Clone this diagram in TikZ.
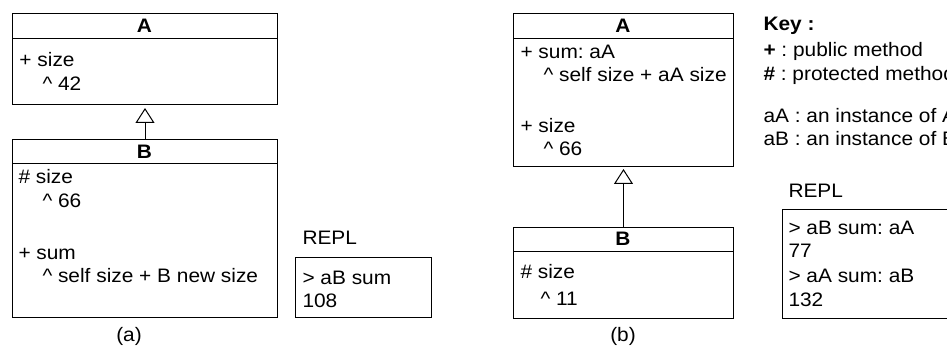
\documentclass[tikz,border=0pt]{standalone}
\usepackage{fontspec}
\setmainfont{Liberation Sans}[FakeStretch=1.07]
\usetikzlibrary{arrows.meta}
\frenchspacing
\begin{document}
\begin{tikzpicture}[x=1pt,y=-1pt,line width=1pt,
  txt/.style={anchor=base west, inner sep=0pt, font=\fontsize{19.5}{23}\selectfont},
  ttl/.style={anchor=base, inner sep=0pt, font=\fontsize{19.5}{23}\selectfont\bfseries},
  box/.style={draw, anchor=north west, inner sep=0pt, line width=1pt},
  inh/.style={-{Triangle[open,length=15pt,width=19pt,line width=1pt]}}]
\useasboundingbox (0,0) rectangle (947,347);
\clip (0,0) rectangle (947,347);
% ---------- panel (a)
\node[box, minimum width=265pt, minimum height=91.5pt] (Aa) at (12,13) {};
\draw ([yshift=-25.5pt]Aa.north west) -- ([yshift=-25.5pt]Aa.north east);
\node[ttl] (AaT) at (144.5,32.5) {A};
\node[txt] (Aa1) at (19,67) {+ size};
\node[txt] (Aa2) at (42,91) {\^{} 42};
\node[box, minimum width=265pt, minimum height=177.5pt] (Ba) at (12,139.5) {};
\draw ([yshift=-24.5pt]Ba.north west) -- ([yshift=-24.5pt]Ba.north east);
\node[ttl] (BaT) at (144.5,158.5) {B};
\node[txt] (Ba1) at (18,184) {\# size};
\node[txt] (Ba2) at (42,208) {\^{} 66};
\node[txt] (Ba3) at (18,259) {+ sum};
\node[txt] (Ba4) at (42,282) {\^{} self size + B new size};
\draw[inh, shorten >=2.5pt] (Ba.north) -- (Aa.south);
\node[txt] (Ra) at (302,244.5) {REPL};
\node[box, minimum width=136pt, minimum height=60pt] (RaB) at (295,257) {};
\node[txt] (Ra1) at (302,284.5) {> aB sum};
\node[txt] (Ra2) at (302,307) {108};
\node[txt, anchor=base] (capa) at (129,341) {(a)};
% ---------- panel (b)
\node[box, minimum width=220pt, minimum height=153pt] (Ab) at (513,13) {};
\draw ([yshift=-25.5pt]Ab.north west) -- ([yshift=-25.5pt]Ab.north east);
\node[ttl] (AbT) at (623,32.5) {A};
\node[txt] (Ab1) at (520,59) {+ sum: aA};
\node[txt] (Ab2) at (543,82) {\^{} self size + aA size};
\node[txt] (Ab3) at (520,133) {+ size};
\node[txt] (Ab4) at (543,156) {\^{} 66};
\node[box, minimum width=220pt, minimum height=91pt] (Bb) at (513,227) {};
\draw ([yshift=-25pt]Bb.north west) -- ([yshift=-25pt]Bb.north east);
\node[ttl] (BbT) at (623,246) {B};
\node[txt] (Bb1) at (520,279) {\# size};
\node[txt] (Bb2) at (540,305) {\^{} 11};
\draw[inh, shorten >=2pt] (Bb.north) -- (Ab.south);
\node[txt, anchor=base] (capb) at (623,341) {(b)};
% ---------- key
\node[txt, font=\fontsize{19.5}{23}\selectfont\bfseries] (K0) at (763,31) {Key :};
\node[txt] (K1) at (763,57) {\textbf{+} : public method};
\node[txt] (K2) at (763,81) {\textbf{\#} : protected method};
\node[txt] (K3) at (763,122.5) {aA : an instance of A};
\node[txt] (K4) at (763,145.5) {aB : an instance of B};
% ---------- REPL (b)
\node[txt] (Rb) at (788,197.5) {REPL};
\node[box, minimum width=180pt, minimum height=109pt] (RbB) at (782,209) {};
\node[txt] (Rb1) at (788,235) {> aB sum: aA};
\node[txt] (Rb2) at (788,257.5) {77};
\node[txt] (Rb3) at (788,283) {> aA sum: aB};
\node[txt] (Rb4) at (788,306) {132};
\end{tikzpicture}
\end{document}
